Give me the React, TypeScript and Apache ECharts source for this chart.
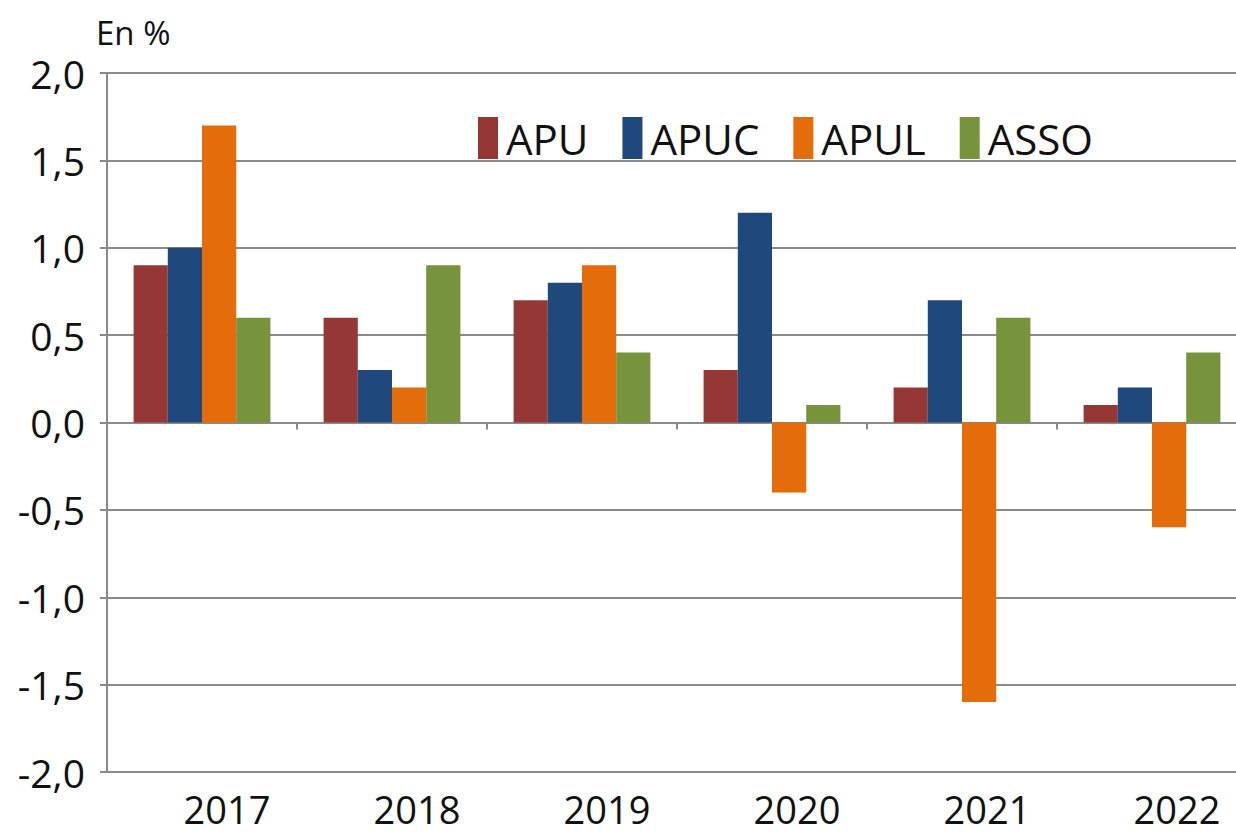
import React, { useEffect, useRef } from "react";
import * as echarts from "echarts";

const categories = ["2017", "2018", "2019", "2020", "2021", "2022"];
const seriesNames = ["APU", "APUC", "APUL", "ASSO"];
const apu = [0.9, 0.6, 0.7, 0.3, 0.2, 0.1];
const apuc = [1.0, 0.3, 0.8, 1.2, 0.7, 0.2];
const apul = [1.7, 0.2, 0.9, -0.4, -1.6, -0.6];
const asso = [0.6, 0.9, 0.4, 0.1, 0.6, 0.4];
const colors = ["#953735", "#1F497D", "#E46C0A", "#77933C"];

const FONT = "Open Sans";
const GRID_COLOR = "#8a8a8a";

export default function App() {
  const ref = useRef<HTMLDivElement>(null);
  useEffect(() => {
    document.body.style.margin = "0";
    document.body.style.overflow = "hidden";
    const chart = echarts.init(ref.current!, null, { renderer: "svg" });
    const values = [apu, apuc, apul, asso];
    chart.setOption({
      animation: false,
      backgroundColor: "#ffffff",
      textStyle: { fontFamily: FONT },
      graphic: [
        {
          type: "text",
          left: 96,
          top: 16,
          style: { text: "En %", fontSize: 33, fontFamily: FONT, fill: "#111" },
        },
      ],
      legend: {
        left: 473,
        top: 112,
        icon: "rect",
        itemWidth: 20,
        itemHeight: 42,
        itemGap: 34,
        textStyle: { fontSize: 42, fontFamily: FONT, color: "#111", padding: [0, 0, 0, 3] },
        data: seriesNames,
      },
      grid: { left: 107, top: 73, width: 1140, height: 699 },
      xAxis: [
        {
          type: "category",
          data: categories,
          position: "bottom",
          axisLine: { show: true, onZero: true, lineStyle: { color: GRID_COLOR, width: 2 } },
          axisTick: { show: true, length: 7, lineStyle: { color: GRID_COLOR, width: 2 } },
          axisLabel: { show: false },
        },
        {
          type: "category",
          data: categories,
          position: "bottom",
          axisLine: { show: false, onZero: false },
          axisTick: { show: false },
          axisLabel: {
            show: true,
            fontSize: 38,
            lineHeight: 34,
            fontFamily: FONT,
            color: "#111",
            margin: 20,
            padding: [0, 0, 0, 50],
          },
        },
      ],
      yAxis: {
        type: "value",
        min: -2,
        max: 2,
        interval: 0.5,
        axisLine: { show: true, lineStyle: { color: GRID_COLOR, width: 2 } },
        axisTick: { show: true, length: 7, lineStyle: { color: GRID_COLOR, width: 2 } },
        splitLine: { show: true, lineStyle: { color: GRID_COLOR, width: 2 } },
        axisLabel: {
          fontSize: 39,
          fontFamily: FONT,
          color: "#111",
          margin: 22,
          formatter: (v: number) => v.toFixed(1).replace(".", ","),
        },
      },
      series: seriesNames.map((name, i) => ({
        name,
        type: "bar",
        xAxisIndex: 0,
        data: values[i],
        barGap: "0%",
        barCategoryGap: "28%",
        itemStyle: { color: colors[i] },
      })),
    });
    return () => chart.dispose();
  }, []);
  return (
    <div style={{ width: 1236, height: 837, overflow: "hidden", position: "relative" }}>
      <div ref={ref} style={{ width: 1250, height: 837 }} />
    </div>
  );
}
